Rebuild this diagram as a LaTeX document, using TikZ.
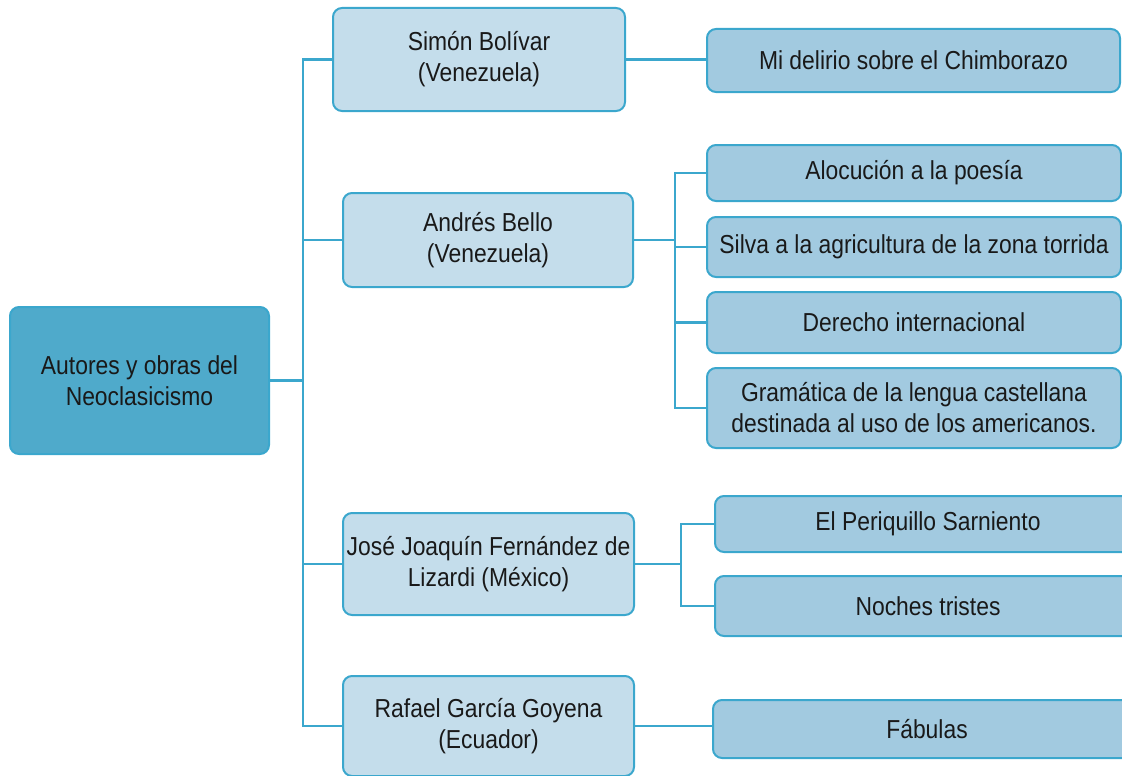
\documentclass[tikz,border=0pt]{standalone}
\usepackage{fontspec}
\setmainfont{Liberation Sans}[FakeStretch=0.88]
\usepackage{tikz}
\usetikzlibrary{calc}

\definecolor{linea}{HTML}{3BA7CD}
\definecolor{raiz}{HTML}{4FAACB}
\definecolor{autor}{HTML}{C4DDEB}
\definecolor{obra}{HTML}{A2CAE0}

\tikzset{
    caja/.style={draw=linea, line width=2pt, rounded corners=9pt, align=center,
        inner sep=0pt, text=black!90, font=\fontsize{26}{31}\selectfont},
    raizbox/.style={caja, fill=raiz},
    autorbox/.style={caja, fill=autor},
    obrabox/.style={caja, fill=obra},
    conn/.style={linea, line width=2.6pt, line join=miter},
}

\begin{document}
\begin{tikzpicture}[x=1pt,y=-1pt]
        \useasboundingbox (0,0) rectangle (1122,776);
        \clip (0,0) rectangle (1122,776);

        \node[raizbox, minimum width=259pt, minimum height=147pt] (raiz) at (139.5,380.5) {Autores y obras del\\Neoclasicismo};

        % autores
        \node[autorbox, minimum width=292pt, minimum height=103pt] (bolivar) at (479,59.5) {Simón Bolívar\\(Venezuela)};
        \node[autorbox, minimum width=290pt, minimum height=94pt] (bello) at (488,240) {Andrés Bello\\(Venezuela)};
        \node[autorbox, minimum width=291pt, minimum height=102pt] (lizardi) at (488.5,564) {José Joaquín Fernández de\\Lizardi (México)};
        \node[autorbox, minimum width=291pt, minimum height=100pt] (goyena) at (488.5,726) {Rafael García Goyena\\(Ecuador)};

        % obras
        \node[obrabox, minimum width=413pt, minimum height=63pt] (delirio) at (913.5,60.5) {Mi delirio sobre el Chimborazo};
        \node[obrabox, minimum width=414pt, minimum height=56pt] (alocucion) at (914,173) {Alocución a la poesía};
        \node[obrabox, minimum width=414pt, minimum height=60pt] (silva) at (914,247) {Silva a la agricultura de la zona torrida};
        \node[obrabox, minimum width=414pt, minimum height=61pt] (derecho) at (914,322.5) {Derecho internacional};
        \node[obrabox, minimum width=414pt, minimum height=80pt] (gramatica) at (914,408) {Gramática de la lengua castellana\\destinada al uso de los americanos.};
        \node[obrabox, minimum width=426pt, minimum height=56pt] (periquillo) at (928,524) {El Periquillo Sarniento};
        \node[obrabox, minimum width=426pt, minimum height=60pt] (noches) at (928,606) {Noches tristes};
        \node[obrabox, minimum width=428pt, minimum height=58pt] (fabulas) at (927,729) {Fábulas};

        % troncos
        \coordinate (tronco) at (303,0);
        \coordinate (rbello) at (675,0);
        \coordinate (rlizardi) at (681,0);

        \draw[conn] (raiz.east) -- (tronco |- raiz.east);
        \draw[conn] (bolivar.west) -| (tronco |- goyena.west) -- (goyena.west);
        \draw[conn] (bello.west) -- (tronco |- bello.west);
        \draw[conn] (lizardi.west) -- (tronco |- lizardi.west);

        \draw[conn] (bolivar.east) -- (bolivar.east -| delirio.west);

        \draw[conn] (bello.east) -- (rbello |- bello.east);
        \draw[conn] (alocucion.west) -| (rbello |- gramatica.west) -- (gramatica.west);
        \draw[conn] (silva.west) -- (rbello |- silva.west);
        \draw[conn] (derecho.west) -- (rbello |- derecho.west);

        \draw[conn] (lizardi.east) -- (rlizardi |- lizardi.east);
        \draw[conn] (periquillo.west) -| (rlizardi |- noches.west) -- (noches.west);

        \draw[conn] (goyena.east) -- (goyena.east -| fabulas.west);
    \end{tikzpicture}
\end{document}
